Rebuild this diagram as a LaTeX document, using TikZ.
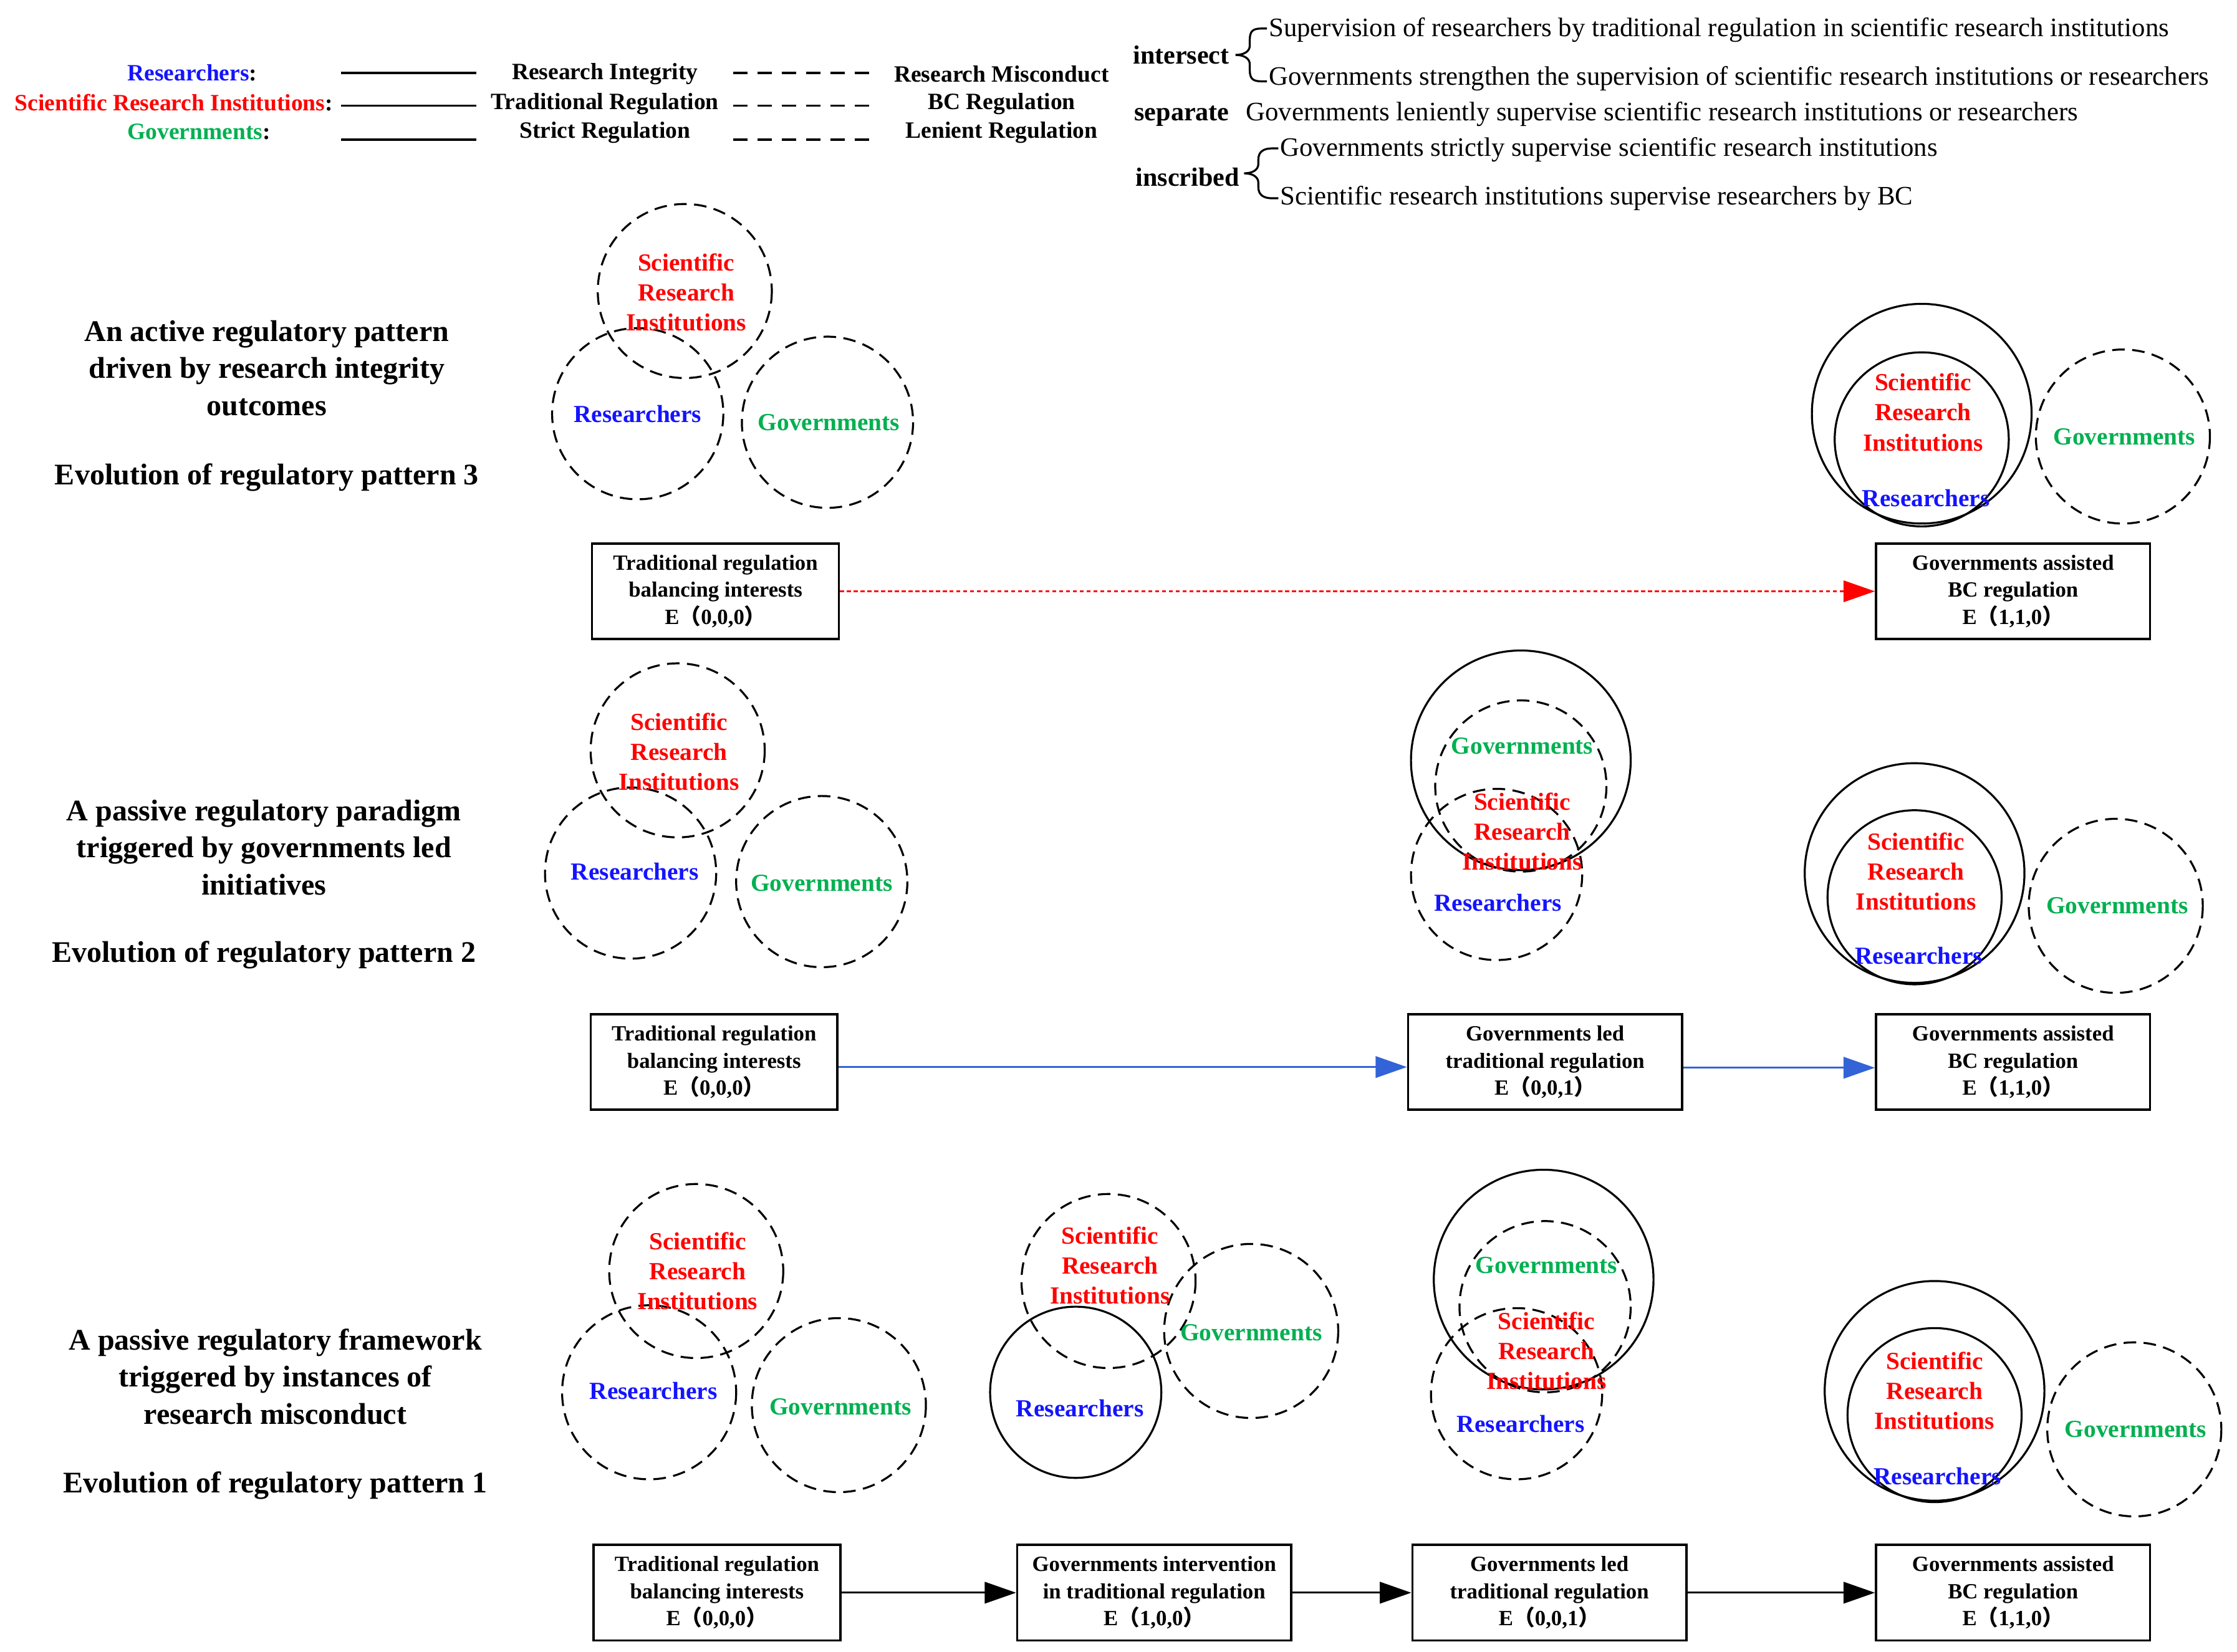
\documentclass[tikz,border=0pt]{standalone}
\usepackage{fontspec}
\setmainfont{Liberation Serif}
\newfontfamily\cjk{Noto Sans CJK SC}
\usetikzlibrary{arrows.meta}
\definecolor{rblue}{RGB}{20,20,255}
\definecolor{rred}{RGB}{255,0,0}
\definecolor{rgreen}{RGB}{0,176,80}
\definecolor{arrblue}{RGB}{50,100,215}
\newcommand{\EP}[1]{E{\cjk（}#1{\cjk）}}
\begin{document}
\begin{tikzpicture}[x=0.5pt,y=-0.5pt,
  txt/.style={inner sep=0pt, font=\bfseries\fontsize{8.2}{10}\selectfont},
  reg/.style={inner sep=0pt, font=\fontsize{9.35}{11}\selectfont},
  kw/.style={inner sep=0pt, font=\bfseries\fontsize{9.2}{11}\selectfont},
  ttl/.style={inner sep=0pt, align=center, font=\bfseries\fontsize{10.5}{13}\selectfont},
  clab/.style={inner sep=0pt, align=center, font=\bfseries\fontsize{8.6}{10.5}\selectfont},
  sri/.style={clab, text=rred},
  res/.style={clab, text=rblue},
  gov/.style={clab, text=rgreen},
  boxn/.style={draw, line width=0.8pt, minimum height=33.5pt, align=center, inner sep=0pt, font=\bfseries\fontsize{7.6}{9.5}\selectfont},
  wbox/.style={boxn, minimum width=96pt},
  nbox/.style={boxn, minimum width=86.5pt},
  dcirc/.style={line width=0.7pt, dash pattern=on 4.4pt off 2.6pt},
  scirc/.style={line width=0.7pt},
  legline/.style={line width=0.8pt},
  legdash/.style={line width=0.8pt, dash pattern=on 5pt off 3.5pt},
  brc/.style={line width=0.7pt},
  blk/.style={line width=0.7pt, -{Triangle[length=11pt,width=7.5pt]}},
  blu/.style={blk, color=arrblue},
  redarr/.style={line width=0.6pt, color=rred, dash pattern=on 1.4pt off 1pt, -{Triangle[length=11pt,width=7.5pt]}}
]
\useasboundingbox (0,0) rectangle (1568,1158);

% ---------- legend left ----------
\node[txt, anchor=mid west] (lr) at (89,52) {\textcolor{rblue}{Researchers}:};
\node[txt, anchor=mid west] (ls) at (10,73) {\textcolor{rred}{Scientific Research Institutions}:};
\node[txt, anchor=mid west] (lg) at (89,93) {\textcolor{rgreen}{Governments}:};
\draw[legline] (239,51) -- (334,51);
\draw[legline] (239,74) -- (334,74);
\draw[legline] (239,98) -- (334,98);
\node[txt] (l1) at (424,52) {Research Integrity};
\node[txt] (l2) at (424,73) {Traditional Regulation};
\node[txt] (l3) at (424,93) {Strict Regulation};
\draw[legdash] (514,51) -- (610,51);
\draw[legdash] (514,74) -- (610,74);
\draw[legdash] (514,98) -- (610,98);
\node[txt] (r1) at (702,52) {Research Misconduct};
\node[txt] (r2) at (702,73) {BC Regulation};
\node[txt] (r3) at (702,93) {Lenient Regulation};

% ---------- legend right ----------
\node[kw, anchor=mid east] (kint) at (862,40) {intersect};
\draw[brc] (888,20) -- (884,20) .. controls (878,20) and (876,22) .. (876,28) -- (876,32)
  .. controls (876,36) and (872,38.5) .. (866,38.5) .. controls (872,38.5) and (876,41) .. (876,45)
  -- (876,49) .. controls (876,55) and (878,57) .. (884,57) -- (888,57);
\node[reg, anchor=mid west] (t1) at (889,21) {Supervision of researchers by traditional regulation in scientific research institutions};
\node[reg, anchor=mid west] (t2) at (889,55) {Governments strengthen the supervision of scientific research institutions or researchers};
\node[kw, anchor=mid east] (ksep) at (862,80) {separate};
\node[reg, anchor=mid west] (t3) at (873,80) {Governments leniently supervise scientific research institutions or researchers};
\node[kw, anchor=mid east] (kins) at (869,126) {inscribed};
\draw[brc] (896,104) -- (892,104) .. controls (886,104) and (882,106) .. (882,112) -- (882,115)
  .. controls (882,119) and (878,121.5) .. (872,121.5) .. controls (878,121.5) and (882,124) .. (882,128)
  -- (882,131) .. controls (882,137) and (886,139) .. (892,139) -- (896,139);
\node[reg, anchor=mid west] (t4) at (897,105) {Governments strictly supervise scientific research institutions};
\node[reg, anchor=mid west] (t5) at (897,139) {Scientific research institutions supervise researchers by BC};

% ---------- titles ----------
\node[ttl] (h3) at (187,258) {An active regulatory pattern\\driven by research integrity\\outcomes};
\node[ttl, anchor=mid] (e3) at (187,335) {Evolution of regulatory pattern 3};
\node[ttl] (h2) at (185,594) {A passive regulatory paradigm\\triggered by governments led\\initiatives};
\node[ttl, anchor=mid] (e2) at (185,670) {Evolution of regulatory pattern 2};
\node[ttl] (h1) at (193,965) {A passive regulatory framework\\triggered by instances of\\research misconduct};
\node[ttl, anchor=mid] (e1) at (193,1042) {Evolution of regulatory pattern 1};

% ---------- row 3 circles ----------
\draw[dcirc] (480,204) circle[radius=61];
\draw[dcirc] (447,290) circle[radius=60];
\draw[dcirc] (580,296) circle[radius=60];
\node[sri] (c3a) at (481,205) {Scientific\\Research\\Institutions};
\node[res] (c3b) at (447,290) {Researchers};
\node[gov] (c3c) at (581,296) {Governments};

\draw[scirc] (1347,290) circle[radius=77];
\draw[scirc] (1347,308) circle[radius=61];
\draw[dcirc] (1488,306) circle[radius=61];
\node[sri] (c3d) at (1348,289) {Scientific\\Research\\Institutions};
\node[res] (c3e) at (1350,349) {Researchers};
\node[gov] (c3f) at (1489,306) {Governments};

% ---------- row 3 boxes ----------
\node[nbox] (b31) at (501.5,414.5) {Traditional regulation\\balancing interests\\\EP{0,0,0}};
\node[wbox] (b32) at (1411,414.5) {Governments assisted\\BC regulation\\\EP{1,1,0}};
\draw[redarr] (b31.east) -- (b32.west);

% ---------- row 2 circles ----------
\draw[dcirc] (475,526) circle[radius=61];
\draw[dcirc] (442,612) circle[radius=60];
\draw[dcirc] (576,618) circle[radius=60];
\node[sri] (c2a) at (476,527) {Scientific\\Research\\Institutions};
\node[res] (c2b) at (445,611) {Researchers};
\node[gov] (c2c) at (576,619) {Governments};

\draw[scirc] (1066,533) circle[radius=77];
\draw[dcirc] (1066,551) circle[radius=60];
\draw[dcirc] (1049,613) circle[radius=60];
\node[gov] (c2d) at (1067,523) {Governments};
\node[sri] (c2e) at (1067,583) {Scientific\\Research\\Institutions};
\node[res] (c2f) at (1050,633) {Researchers};

\draw[scirc] (1342,612) circle[radius=77];
\draw[scirc] (1342,629) circle[radius=61];
\draw[dcirc] (1483,635) circle[radius=61];
\node[sri] (c2g) at (1343,611) {Scientific\\Research\\Institutions};
\node[res] (c2h) at (1345,670) {Researchers};
\node[gov] (c2i) at (1484,635) {Governments};

% ---------- row 2 boxes ----------
\node[nbox] (b21) at (500.5,744.5) {Traditional regulation\\balancing interests\\\EP{0,0,0}};
\node[wbox] (b22) at (1083,744.5) {Governments led\\traditional regulation\\\EP{0,0,1}};
\node[wbox] (b23) at (1411,744.5) {Governments assisted\\BC regulation\\\EP{1,1,0}};
\draw[blu] ([yshift=-1.75pt]b21.east) -- ([yshift=-1.75pt]b22.west);
\draw[blu] ([yshift=-2pt]b22.east) -- ([yshift=-2pt]b23.west);

% ---------- row 1 circles ----------
\draw[dcirc] (488,891) circle[radius=61];
\draw[dcirc] (455,976) circle[radius=61];
\draw[dcirc] (588,985) circle[radius=61];
\node[sri] (c1a) at (489,891) {Scientific\\Research\\Institutions};
\node[res] (c1b) at (458,975) {Researchers};
\node[gov] (c1c) at (589,986) {Governments};

\draw[dcirc] (777,898) circle[radius=61];
\draw[scirc] (754,976) circle[radius=60];
\draw[dcirc] (877,933) circle[radius=61];
\node[sri] (c1d) at (778,887) {Scientific\\Research\\Institutions};
\node[res] (c1e) at (757,987) {Researchers};
\node[gov] (c1f) at (877,934) {Governments};

\draw[scirc] (1082,897) circle[radius=77];
\draw[dcirc] (1083,916) circle[radius=60];
\draw[dcirc] (1063,977) circle[radius=60];
\node[gov] (c1g) at (1084,887) {Governments};
\node[sri] (c1h) at (1084,947) {Scientific\\Research\\Institutions};
\node[res] (c1i) at (1066,998) {Researchers};

\draw[scirc] (1356,975) circle[radius=77];
\draw[scirc] (1356,992) circle[radius=61];
\draw[dcirc] (1496,1002) circle[radius=61];
\node[sri] (c1j) at (1356,975) {Scientific\\Research\\Institutions};
\node[res] (c1k) at (1358,1035) {Researchers};
\node[gov] (c1l) at (1497,1002) {Governments};

% ---------- row 1 boxes ----------
\node[nbox] (b11) at (502.5,1116.5) {Traditional regulation\\balancing interests\\\EP{0,0,0}};
\node[wbox] (b12) at (809,1116.5) {Governments intervention\\in traditional regulation\\\EP{1,0,0}};
\node[wbox] (b13) at (1086,1116.5) {Governments led\\traditional regulation\\\EP{0,0,1}};
\node[wbox] (b14) at (1411,1116.5) {Governments assisted\\BC regulation\\\EP{1,1,0}};
\draw[blk] (b11) -- (b12);
\draw[blk] (b12) -- (b13);
\draw[blk] (b13) -- (b14);
\end{tikzpicture}
\end{document}
